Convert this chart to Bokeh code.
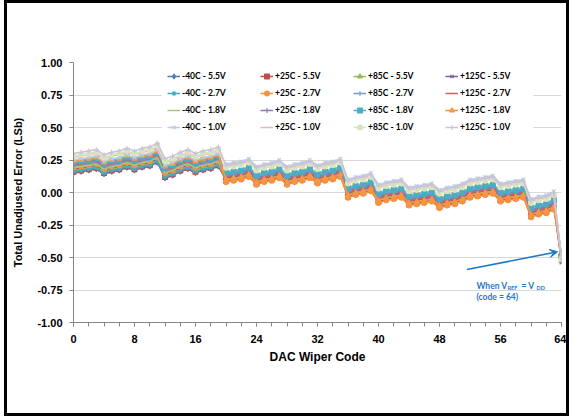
from bokeh.plotting import figure
from bokeh.models import (Range1d, FixedTicker, NumeralTickFormatter, Legend,
                          LegendItem, Label, Arrow, VeeHead)
from bokeh.embed import file_html
from bokeh.resources import INLINE

# ---------------- data (Total Unadjusted Error, LSb) ----------------
codes = list(range(65))

tue_m40_55 = [0.15, 0.16, 0.17, 0.18, 0.14, 0.16, 0.17, 0.19, 0.17, 0.19, 0.20, 0.23, 0.11, 0.13, 0.16, 0.18, 0.15, 0.17, 0.18, 0.20,
              0.11, 0.12, 0.13, 0.15, 0.09, 0.11, 0.12, 0.14, 0.09, 0.11, 0.12, 0.14, 0.10, 0.12, 0.13, 0.15, -0.01, 0.01, 0.02, 0.04,
              -0.05, -0.03, -0.02, -0.01, -0.07, -0.06, -0.05, -0.04, -0.09, -0.07, -0.06, -0.04, -0.01, 0.00, 0.01, 0.02, -0.04, -0.03, -0.02, -0.01,
              -0.16, -0.14, -0.13, -0.10, -0.48]
tue_p25_55 = [0.16, 0.17, 0.18, 0.19, 0.15, 0.17, 0.18, 0.20, 0.18, 0.20, 0.21, 0.24, 0.12, 0.14, 0.17, 0.19, 0.16, 0.18, 0.19, 0.21,
              0.09, 0.10, 0.11, 0.13, 0.07, 0.09, 0.10, 0.12, 0.07, 0.09, 0.10, 0.12, 0.08, 0.10, 0.11, 0.13, -0.03, -0.01, 0.00, 0.02,
              -0.07, -0.05, -0.04, -0.03, -0.09, -0.08, -0.07, -0.06, -0.11, -0.09, -0.08, -0.06, -0.03, -0.02, -0.01, 0.00, -0.06, -0.05, -0.04, -0.03,
              -0.18, -0.16, -0.15, -0.12, -0.49]
tue_p85_55 = [0.17, 0.18, 0.19, 0.20, 0.16, 0.18, 0.19, 0.21, 0.19, 0.21, 0.22, 0.25, 0.13, 0.15, 0.18, 0.20, 0.17, 0.19, 0.20, 0.22,
              0.10, 0.11, 0.12, 0.14, 0.08, 0.10, 0.11, 0.13, 0.08, 0.10, 0.11, 0.13, 0.09, 0.11, 0.12, 0.14, -0.02, 0.00, 0.01, 0.03,
              -0.06, -0.04, -0.03, -0.02, -0.08, -0.07, -0.06, -0.05, -0.10, -0.08, -0.07, -0.05, -0.02, -0.01, 0.00, 0.01, -0.05, -0.04, -0.03, -0.02,
              -0.17, -0.15, -0.14, -0.11, -0.53]
tue_p125_55 = [0.18, 0.19, 0.20, 0.21, 0.17, 0.19, 0.20, 0.22, 0.20, 0.22, 0.23, 0.26, 0.14, 0.16, 0.19, 0.21, 0.18, 0.20, 0.21, 0.23,
               0.12, 0.13, 0.14, 0.16, 0.10, 0.12, 0.13, 0.15, 0.10, 0.12, 0.13, 0.15, 0.11, 0.13, 0.14, 0.16, 0.00, 0.02, 0.03, 0.05,
               -0.04, -0.02, -0.01, 0.00, -0.06, -0.05, -0.04, -0.03, -0.08, -0.06, -0.05, -0.03, 0.00, 0.01, 0.02, 0.03, -0.03, -0.02, -0.01, 0.00,
               -0.15, -0.13, -0.12, -0.09, -0.54]
tue_m40_27 = [0.16, 0.17, 0.18, 0.19, 0.15, 0.17, 0.18, 0.20, 0.18, 0.20, 0.21, 0.24, 0.12, 0.14, 0.17, 0.19, 0.16, 0.18, 0.19, 0.21,
              0.13, 0.14, 0.15, 0.17, 0.11, 0.13, 0.14, 0.16, 0.11, 0.13, 0.14, 0.16, 0.12, 0.14, 0.15, 0.17, 0.01, 0.03, 0.04, 0.06,
              -0.03, -0.01, 0.00, 0.01, -0.05, -0.04, -0.03, -0.02, -0.07, -0.05, -0.04, -0.02, 0.01, 0.02, 0.03, 0.04, -0.02, -0.01, 0.00, 0.01,
              -0.14, -0.12, -0.11, -0.08, -0.50]
tue_p25_27 = [0.19, 0.20, 0.21, 0.22, 0.18, 0.20, 0.21, 0.23, 0.21, 0.23, 0.24, 0.27, 0.15, 0.17, 0.20, 0.22, 0.19, 0.21, 0.22, 0.24,
              0.08, 0.09, 0.10, 0.12, 0.06, 0.08, 0.09, 0.11, 0.06, 0.08, 0.09, 0.11, 0.07, 0.09, 0.10, 0.12, -0.04, -0.02, -0.01, 0.01,
              -0.08, -0.06, -0.05, -0.04, -0.10, -0.09, -0.08, -0.07, -0.12, -0.10, -0.09, -0.07, -0.04, -0.03, -0.02, -0.01, -0.07, -0.06, -0.05, -0.04,
              -0.19, -0.17, -0.16, -0.13, -0.49]
tue_p85_27 = [0.20, 0.21, 0.22, 0.23, 0.19, 0.21, 0.22, 0.24, 0.22, 0.24, 0.25, 0.28, 0.16, 0.18, 0.21, 0.23, 0.20, 0.22, 0.23, 0.25,
              0.14, 0.15, 0.16, 0.18, 0.12, 0.14, 0.15, 0.17, 0.12, 0.14, 0.15, 0.17, 0.13, 0.15, 0.16, 0.18, 0.02, 0.04, 0.05, 0.07,
              -0.02, 0.00, 0.01, 0.02, -0.04, -0.03, -0.02, -0.01, -0.06, -0.04, -0.03, -0.01, 0.02, 0.03, 0.04, 0.05, -0.01, 0.00, 0.01, 0.02,
              -0.13, -0.11, -0.10, -0.07, -0.50]
tue_p125_27 = [0.21, 0.22, 0.23, 0.24, 0.20, 0.22, 0.23, 0.25, 0.23, 0.25, 0.26, 0.29, 0.17, 0.19, 0.22, 0.24, 0.21, 0.23, 0.24, 0.26,
               0.12, 0.13, 0.14, 0.16, 0.10, 0.12, 0.13, 0.15, 0.10, 0.12, 0.13, 0.15, 0.11, 0.13, 0.14, 0.16, 0.00, 0.02, 0.03, 0.05,
               -0.04, -0.02, -0.01, 0.00, -0.06, -0.05, -0.04, -0.03, -0.08, -0.06, -0.05, -0.03, 0.00, 0.01, 0.02, 0.03, -0.03, -0.02, -0.01, 0.00,
               -0.15, -0.13, -0.12, -0.09, -0.48]
tue_m40_18 = [0.19, 0.20, 0.21, 0.22, 0.18, 0.20, 0.21, 0.23, 0.21, 0.23, 0.24, 0.27, 0.15, 0.17, 0.20, 0.22, 0.19, 0.21, 0.22, 0.24,
              0.16, 0.17, 0.18, 0.20, 0.14, 0.16, 0.17, 0.19, 0.14, 0.16, 0.17, 0.19, 0.15, 0.17, 0.18, 0.20, 0.04, 0.06, 0.07, 0.09,
              0.00, 0.02, 0.03, 0.04, -0.02, -0.01, 0.00, 0.01, -0.04, -0.02, -0.01, 0.01, 0.04, 0.05, 0.06, 0.07, 0.01, 0.02, 0.03, 0.04,
              -0.11, -0.09, -0.08, -0.05, -0.51]
tue_p25_18 = [0.22, 0.23, 0.24, 0.25, 0.21, 0.23, 0.24, 0.26, 0.24, 0.26, 0.27, 0.30, 0.18, 0.20, 0.23, 0.25, 0.22, 0.24, 0.25, 0.27,
              0.13, 0.14, 0.15, 0.17, 0.11, 0.13, 0.14, 0.16, 0.11, 0.13, 0.14, 0.16, 0.12, 0.14, 0.15, 0.17, 0.01, 0.03, 0.04, 0.06,
              -0.03, -0.01, 0.00, 0.01, -0.05, -0.04, -0.03, -0.02, -0.07, -0.05, -0.04, -0.02, 0.01, 0.02, 0.03, 0.04, -0.02, -0.01, 0.00, 0.01,
              -0.14, -0.12, -0.11, -0.08, -0.52]
tue_p85_18 = [0.23, 0.24, 0.25, 0.26, 0.22, 0.24, 0.25, 0.27, 0.25, 0.27, 0.28, 0.31, 0.19, 0.21, 0.24, 0.26, 0.23, 0.25, 0.26, 0.28,
              0.15, 0.16, 0.17, 0.19, 0.13, 0.15, 0.16, 0.18, 0.13, 0.15, 0.16, 0.18, 0.14, 0.16, 0.17, 0.19, 0.03, 0.05, 0.06, 0.08,
              -0.01, 0.01, 0.02, 0.03, -0.03, -0.02, -0.01, 0.00, -0.05, -0.03, -0.02, 0.00, 0.03, 0.04, 0.05, 0.06, 0.00, 0.01, 0.02, 0.03,
              -0.12, -0.10, -0.09, -0.06, -0.49]
tue_p125_18 = [0.24, 0.25, 0.26, 0.27, 0.23, 0.25, 0.26, 0.28, 0.26, 0.28, 0.29, 0.32, 0.20, 0.22, 0.25, 0.27, 0.24, 0.26, 0.27, 0.29,
               0.10, 0.11, 0.12, 0.14, 0.08, 0.10, 0.11, 0.13, 0.08, 0.10, 0.11, 0.13, 0.09, 0.11, 0.12, 0.14, -0.02, 0.00, 0.01, 0.03,
               -0.06, -0.04, -0.03, -0.02, -0.08, -0.07, -0.06, -0.05, -0.10, -0.08, -0.07, -0.05, -0.02, -0.01, 0.00, 0.01, -0.05, -0.04, -0.03, -0.02,
               -0.17, -0.15, -0.14, -0.11, -0.52]
tue_m40_10 = [0.25, 0.26, 0.27, 0.28, 0.24, 0.26, 0.27, 0.29, 0.27, 0.29, 0.30, 0.33, 0.21, 0.23, 0.26, 0.28, 0.25, 0.27, 0.28, 0.30,
              0.22, 0.23, 0.24, 0.26, 0.20, 0.22, 0.23, 0.25, 0.20, 0.22, 0.23, 0.25, 0.21, 0.23, 0.24, 0.26, 0.10, 0.12, 0.13, 0.15,
              0.06, 0.08, 0.09, 0.10, 0.04, 0.05, 0.06, 0.07, 0.02, 0.04, 0.05, 0.07, 0.10, 0.11, 0.12, 0.13, 0.07, 0.08, 0.09, 0.10,
              -0.05, -0.03, -0.02, 0.01, -0.50]
tue_p25_10 = [0.27, 0.28, 0.29, 0.30, 0.26, 0.28, 0.29, 0.31, 0.29, 0.31, 0.32, 0.35, 0.23, 0.25, 0.28, 0.30, 0.27, 0.29, 0.30, 0.32,
              0.20, 0.21, 0.22, 0.24, 0.18, 0.20, 0.21, 0.23, 0.18, 0.20, 0.21, 0.23, 0.19, 0.21, 0.22, 0.24, 0.08, 0.10, 0.11, 0.13,
              0.04, 0.06, 0.07, 0.08, 0.02, 0.03, 0.04, 0.05, 0.00, 0.02, 0.03, 0.05, 0.08, 0.09, 0.10, 0.11, 0.05, 0.06, 0.07, 0.08,
              -0.07, -0.05, -0.04, -0.01, -0.50]
tue_p85_10 = [0.28, 0.29, 0.30, 0.31, 0.27, 0.29, 0.30, 0.32, 0.30, 0.32, 0.33, 0.36, 0.24, 0.26, 0.29, 0.31, 0.28, 0.30, 0.31, 0.33,
              0.19, 0.20, 0.21, 0.23, 0.17, 0.19, 0.20, 0.22, 0.17, 0.19, 0.20, 0.22, 0.18, 0.20, 0.21, 0.23, 0.07, 0.09, 0.10, 0.12,
              0.03, 0.05, 0.06, 0.07, 0.01, 0.02, 0.03, 0.04, -0.01, 0.01, 0.02, 0.04, 0.07, 0.08, 0.09, 0.10, 0.04, 0.05, 0.06, 0.07,
              -0.08, -0.06, -0.05, -0.02, -0.51]
tue_p125_10 = [0.30, 0.31, 0.32, 0.33, 0.29, 0.31, 0.32, 0.34, 0.32, 0.34, 0.35, 0.38, 0.26, 0.28, 0.31, 0.33, 0.30, 0.32, 0.33, 0.35,
               0.21, 0.22, 0.23, 0.25, 0.19, 0.21, 0.22, 0.24, 0.19, 0.21, 0.22, 0.24, 0.20, 0.22, 0.23, 0.25, 0.09, 0.11, 0.12, 0.14,
               0.05, 0.07, 0.08, 0.09, 0.03, 0.04, 0.05, 0.06, 0.01, 0.03, 0.04, 0.06, 0.09, 0.10, 0.11, 0.12, 0.06, 0.07, 0.08, 0.09,
               -0.06, -0.04, -0.03, 0.00, -0.53]

series_labels = ["-40C - 5.5V", "+25C - 5.5V", "+85C - 5.5V", "+125C - 5.5V",
                 "-40C - 2.7V", "+25C - 2.7V", "+85C - 2.7V", "+125C - 2.7V",
                 "-40C - 1.8V", "+25C - 1.8V", "+85C - 1.8V", "+125C - 1.8V",
                 "-40C - 1.0V", "+25C - 1.0V", "+85C - 1.0V", "+125C - 1.0V"]
series_values = [tue_m40_55, tue_p25_55, tue_p85_55, tue_p125_55,
                 tue_m40_27, tue_p25_27, tue_p85_27, tue_p125_27,
                 tue_m40_18, tue_p25_18, tue_p85_18, tue_p125_18,
                 tue_m40_10, tue_p25_10, tue_p85_10, tue_p125_10]

x_ticks = [0, 8, 16, 24, 32, 40, 48, 56, 64]
x_minor_ticks = [0, 2, 4, 6, 8, 10, 12, 14, 16, 18, 20, 22, 24, 26, 28, 30, 32,
                 34, 36, 38, 40, 42, 44, 46, 48, 50, 52, 54, 56, 58, 60, 62, 64]
y_ticks = [-1.0, -0.75, -0.5, -0.25, 0.0, 0.25, 0.5, 0.75, 1.0]

# ---------------- styles ----------------
colors = ["#4A7EBB", "#BE4B48", "#98B954", "#7D60A0",
          "#46AAC5", "#F69240", "#7399CE", "#CC6461",
          "#A9C673", "#8E74B0", "#4BACC6", "#F79646",
          "#B9CDE5", "#E6B9B8", "#D7E4BD", "#CCC1DA"]
markers = ["diamond", "square", "triangle", "x",
           "asterisk", "circle", "cross", "dash",
           None, "cross", "square", "triangle",
           "x", "dash", "circle", "cross"]

FONT = "Liberation Sans"
LFONT = "Lato"

p = figure(width=565, height=416, x_range=Range1d(0, 64), y_range=Range1d(-1, 1),
           output_backend="svg", toolbar_location=None,
           min_border_left=66, min_border_right=11, min_border_top=59, min_border_bottom=97,
           styles={"border": "3px solid #000000", "margin-left": "4px"})
p.outline_line_color = None
p.background_fill_color = "white"
p.border_fill_color = "white"

# axes
for ax in (p.xaxis[0], p.yaxis[0]):
    ax.axis_line_color = "#868686"
    ax.major_tick_line_color = "#868686"
    ax.minor_tick_line_color = "#868686"
    ax.major_tick_in = 0
    ax.major_tick_out = 4
    ax.major_label_text_font = FONT
    ax.major_label_text_font_style = "bold"
    ax.major_label_text_font_size = "11px"
    ax.major_label_text_color = "#000000"
    ax.axis_label_text_font = FONT
    ax.axis_label_text_font_style = "bold"
    ax.axis_label_text_color = "#000000"

p.xaxis.ticker = FixedTicker(ticks=x_ticks, minor_ticks=x_minor_ticks)
p.xaxis.minor_tick_in = 0
p.xaxis.minor_tick_out = 4
p.xaxis.major_label_standoff = 8
p.xaxis.axis_label = "DAC Wiper Code"
p.xaxis.axis_label_text_font_size = "12px"
p.xaxis.axis_label_standoff = 4

p.yaxis.ticker = FixedTicker(ticks=y_ticks, minor_ticks=[])
p.yaxis.formatter = NumeralTickFormatter(format="0.00")
p.yaxis.major_label_standoff = 7
p.yaxis.axis_label = "Total Unadjusted Error (LSb)"
p.yaxis.axis_label_text_font_size = "11px"
p.yaxis.axis_label_standoff = 10

p.xgrid.visible = False
p.ygrid.ticker = FixedTicker(ticks=y_ticks)
p.ygrid.grid_line_color = "#D9D9D9"
p.ygrid.grid_line_width = 1

# series
items = []
for label, vals, col, mk in zip(series_labels, series_values, colors, markers):
    rs = [p.line(codes, vals, line_color=col, line_width=1.5)]
    if mk is not None:
        rs.append(p.scatter(codes, vals, marker=mk, size=5, line_color=col,
                            fill_color=col, line_width=1.1))
    items.append(LegendItem(label=label, renderers=rs))

# legend: 4 columns (one Legend per column so columns sit at fixed places)
col_x = [89, 182, 275, 367]
for c in range(4):
    col_items = [items[r * 4 + c] for r in range(4)]
    lg = Legend(items=col_items, orientation="vertical",
                location=(col_x[c], 184),
                glyph_width=13, glyph_height=12, label_width=68, label_height=12,
                label_standoff=2, spacing=5, padding=5, margin=0,
                label_text_font=LFONT, label_text_font_style="bold",
                label_text_font_size="8.5px", label_text_color="#000000",
                background_fill_color="white", background_fill_alpha=1.0,
                border_line_alpha=0)
    p.add_layout(lg, "center")

# title
title_x, title_y = 29.1, 1.177
p.add_layout(Label(x=title_x, y=title_y, text="Typical Device", text_align="center",
                   text_baseline="alphabetic", text_font=FONT, text_font_style="bold",
                   text_font_size="32px", text_color="#1F8DF5"))

# annotation: V_REF = V_DD
ann_color = "#1F78C8"
arrow_start = (51.6, -0.592)
arrow_end = (63.5, -0.456)
p.add_layout(Arrow(x_start=arrow_start[0], y_start=arrow_start[1],
                   x_end=arrow_end[0], y_end=arrow_end[1],
                   line_color=ann_color, line_width=1.6,
                   end=VeeHead(size=8, line_color=ann_color, fill_color=ann_color, line_width=1)))

ann_x, ann_y = 52.85, -0.72
ann_y2 = -0.805
pieces = [("When V", 0, 0, "8.5px"), ("REF", 31, -2, "5.5px"), ("= V", 45, 0, "8.5px"), ("DD", 60, -2, "5.5px")]
for txt, dx, dy, fs in pieces:
    p.add_layout(Label(x=ann_x, y=ann_y, x_offset=dx, y_offset=dy, text=txt,
                       text_align="left", text_baseline="alphabetic", text_font=LFONT,
                       text_font_style="bold", text_font_size=fs, text_color=ann_color))
p.add_layout(Label(x=ann_x, y=ann_y2, text="(code = 64)", text_align="left",
                   text_baseline="alphabetic", text_font=LFONT, text_font_style="bold",
                   text_font_size="8.5px", text_color=ann_color))

open("out.html", "w").write(file_html(p, INLINE))
